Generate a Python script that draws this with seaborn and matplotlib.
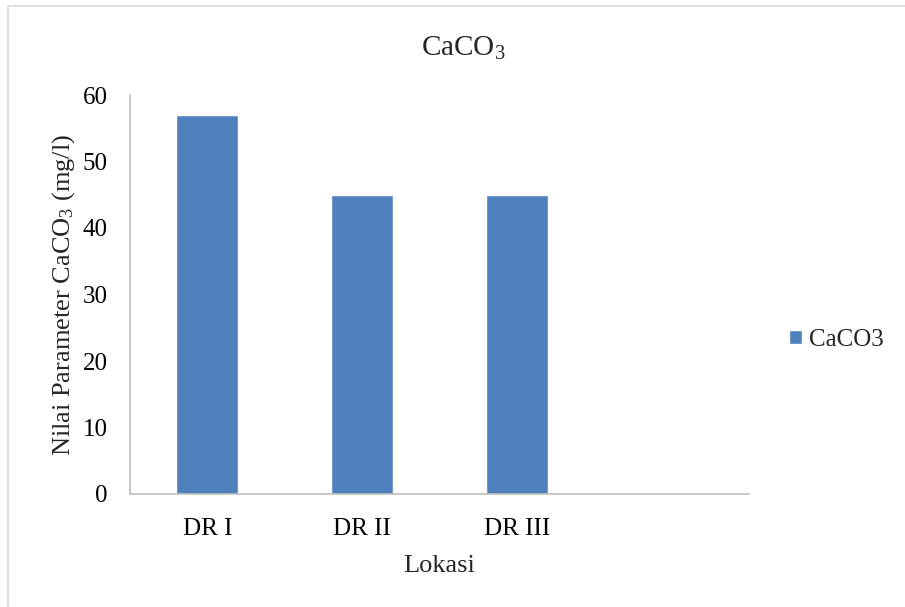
import matplotlib
matplotlib.use("Agg")
import matplotlib.pyplot as plt
import seaborn as sns
import pandas as pd

# data
lokasi = ['DR I', 'DR II', 'DR III', '']
nilai = [57, 45, 45, 0]
series_name = 'CaCO3'

sns.set_style('white')
plt.rcParams['font.family'] = ['Liberation Serif', 'DejaVu Serif']
plt.rcParams['mathtext.fontset'] = 'custom'
plt.rcParams['mathtext.rm'] = 'Liberation Serif'
plt.rcParams['mathtext.it'] = 'Liberation Serif:italic'

df = pd.DataFrame({'Lokasi': lokasi, 'Nilai': nilai, 'Seri': series_name})

fig = plt.figure(figsize=(9.05, 6.07), dpi=100)
ax = fig.add_axes([130/905, 1-494/607, (749-130)/905, (494-95)/607])

sns.barplot(data=df, x='Lokasi', y='Nilai', hue='Seri', palette=['#4f81bd'],
            width=0.4, ax=ax, saturation=1, legend=True)

ax.set_ylim(0, 60)
ax.set_yticks(range(0, 61, 10))
ax.set_xlim(-0.5, 3.5)
ax.tick_params(axis='both', length=0, labelsize=18, colors='black')
ax.tick_params(axis='y', pad=16)
ax.tick_params(axis='x', pad=17)

for s in ['top', 'right']:
    ax.spines[s].set_visible(False)
for s in ['left', 'bottom']:
    ax.spines[s].set_color('#bfbfbf')
    ax.spines[s].set_linewidth(1.2)

ax.set_xlabel('Lokasi', fontsize=19, labelpad=11)
ax.set_ylabel(r'Nilai Parameter CaCO$_3$ (mg/l)', fontsize=19, labelpad=4)
fig.text(463/905, 1-56/607, r'CaCO$_3$', fontsize=21, ha='center', va='baseline')

ax.legend(loc='center left', bbox_to_anchor=(789/905, 1-340/607),
          bbox_transform=fig.transFigure, frameon=False, fontsize=18,
          handlelength=0.5, handleheight=0.5, handletextpad=0.3,
          borderaxespad=0, borderpad=0)

# chart area border (only top/left visible in the crop)
fig.add_artist(plt.Rectangle((8/905, -0.1), 1.2, 1 - 6/607 + 0.1,
                             transform=fig.transFigure, fill=False,
                             edgecolor='#d9d9d9', linewidth=1.2))

fig.savefig('out.png', dpi=100)
